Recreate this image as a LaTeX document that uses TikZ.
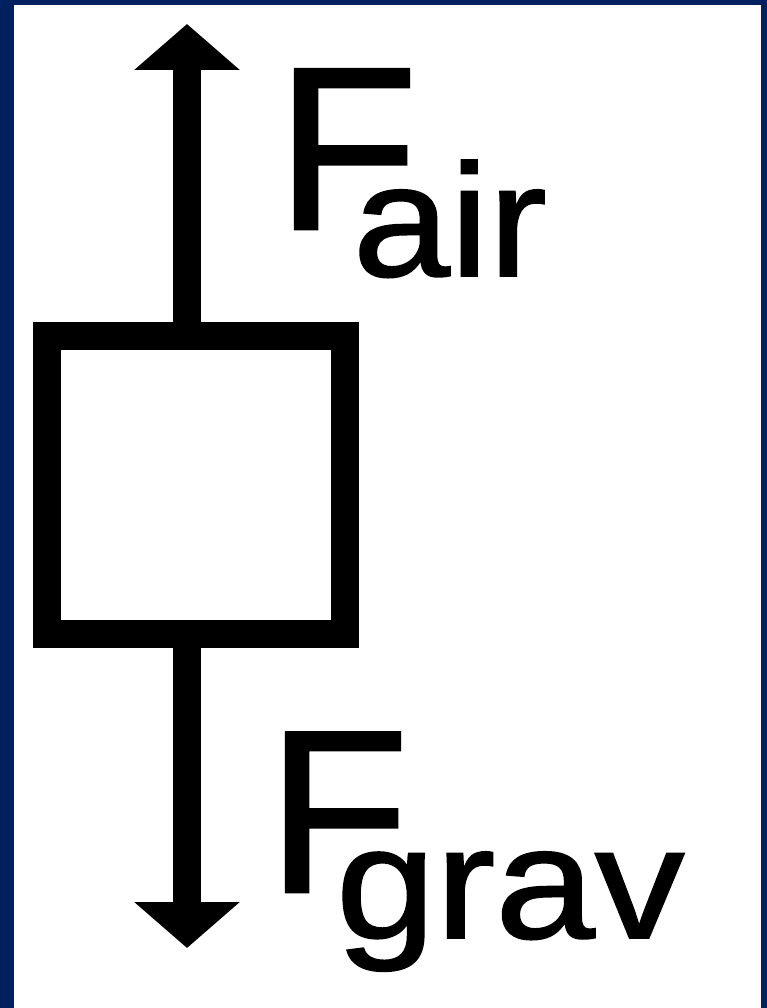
\documentclass[tikz,border=0pt]{standalone}
\usepackage{fontspec}
\setmainfont{Liberation Sans}
\newfontfamily\heavysans[FakeBold=1.2]{Liberation Sans}
\usetikzlibrary{arrows.meta}
\definecolor{frameblue}{RGB}{0,32,96}
\tikzset{
  force/.style={line width=28pt, -{Triangle[width=103pt,length=46pt]}},
  bodybox/.style={draw, line width=28pt, fill=white, minimum width=298pt, minimum height=298pt, inner sep=0pt},
  flabel/.style={anchor=base west, inner sep=0pt, font=\heavysans}
}
\begin{document}
\begin{tikzpicture}[x=1pt,y=-1pt]
\useasboundingbox (0,0) rectangle (767,1008);
\fill[frameblue] (0,0) rectangle (767,1008);
\fill[white] (14,5) rectangle (761,1008);
\node[bodybox] (body) at (196,485) {};
\coordinate (uptip) at (187,24);
\coordinate (downtip) at (187,948);
\draw[force] (body.north -| uptip) -- (uptip);
\draw[force] (body.south -| downtip) -- (downtip);
\node[flabel] (fair) at (276,229) {\fontsize{232}{232}\selectfont F\kern-65pt\raisebox{-47pt}{\fontsize{160}{160}\selectfont\scalebox{1.09}[1]{air}}};
\node[flabel] (fgrav) at (267,892) {\fontsize{232}{232}\selectfont F\kern-73pt\raisebox{-46pt}{\fontsize{160}{160}\selectfont\scalebox{1.12}[1]{grav}}};
\end{tikzpicture}
\end{document}
